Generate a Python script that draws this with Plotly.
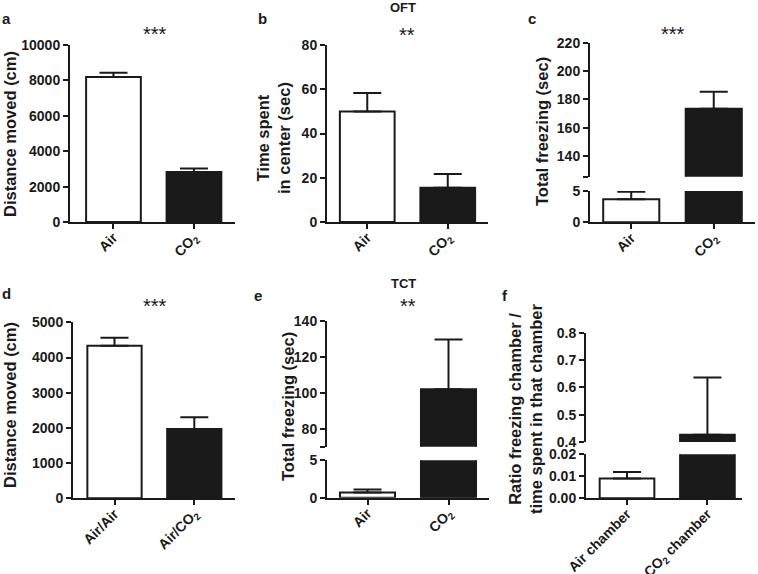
import plotly.graph_objects as go

# ---------------- data ----------------
cats_oft = ["Air", "CO<sub>2</sub>"]
dist_oft = [8200, 2820]
dist_oft_err = [240, 210]
center_time = [50, 15.5]
center_time_err = [8.3, 6.2]
freeze_oft = [3.7, 173.5]
freeze_oft_err = [1.2, 12.0]

cats_tct = ["Air/Air", "Air/CO<sub>2</sub>"]
dist_tct = [4335, 1970]
dist_tct_err = [227, 335]
cats_freeze_tct = ["Air", "CO<sub>2</sub>"]
freeze_tct = [0.7, 102]
freeze_tct_err = [0.4, 27.7]
cats_ratio = ["Air chamber", "CO<sub>2</sub> chamber"]
ratio = [0.009, 0.427]
ratio_err = [0.003, 0.209]

W, H = 758, 574
FONT = "Liberation Sans, Arial, sans-serif"
INK = "#1a1a1a"
BAR_COLORS = ["white", INK]


def fx(px):
    return px / W


def fy(py):
    return 1 - py / H


fig = go.Figure()
layout = {}


def add_bars(xa, ya, cats, vals, errs):
    fig.add_trace(go.Bar(
        x=cats, y=vals, xaxis=xa, yaxis=ya, width=0.68,
        marker=dict(color=BAR_COLORS, line=dict(color=INK, width=2)),
        error_y=dict(type="data", symmetric=False, array=errs,
                     arrayminus=[0] * len(errs), color=INK,
                     thickness=2, width=14),
        showlegend=False, hoverinfo="skip"))


def xaxis_spec(xpx, xr, anchor):
    return dict(domain=[fx(xpx[0]), fx(xpx[1])], range=xr, type="category",
                anchor=anchor, showline=True, linewidth=2, linecolor=INK,
                ticks="outside", ticklen=5, tickwidth=2, tickcolor=INK,
                tickangle=-45, ticklabelstandoff=-5,
                showgrid=False, zeroline=False, automargin=False,
                tickfont=dict(family=FONT, size=14, color=INK, weight="bold"))


def yaxis_spec(ypx, yr, tv, tt, anchor):
    return dict(domain=[fy(ypx[1]), fy(ypx[0])], range=yr, anchor=anchor,
                tickvals=tv, ticktext=tt, showline=True, linewidth=2,
                linecolor=INK, ticks="outside", ticklen=5, tickwidth=2,
                tickcolor=INK, showgrid=False, zeroline=False, automargin=False,
                tickfont=dict(family=FONT, size=14, color=INK, weight="bold"))


# panel a
add_bars("x", "y", cats_oft, dist_oft, dist_oft_err)
layout["xaxis"] = xaxis_spec([70, 235], [-0.54, 1.51], "y")
tv = [0, 2000, 4000, 6000, 8000, 10000]
layout["yaxis"] = yaxis_spec([45, 222], [0, 10005], tv, [str(v) for v in tv], "x")

# panel b
add_bars("x2", "y2", cats_oft, center_time, center_time_err)
layout["xaxis2"] = xaxis_spec([327, 488], [-0.5, 1.5], "y2")
tv = [0, 20, 40, 60, 80]
layout["yaxis2"] = yaxis_spec([45, 222], [0, 80.05], tv, [str(v) for v in tv], "x2")

# panel c (broken axis)
add_bars("x3", "y3", cats_oft, freeze_oft, freeze_oft_err)
add_bars("x3", "y4", cats_oft, freeze_oft, freeze_oft_err)
layout["xaxis3"] = xaxis_spec([590, 755], [-0.5, 1.5], "y3")
layout["yaxis3"] = yaxis_spec([191, 222.3], [0, 5.01], [0, 5], ["0", "5"], "x3")
tv = [125.4, 140, 160, 180, 200, 220]
layout["yaxis4"] = yaxis_spec([42.7, 176.7], [125.4, 220.1], tv,
                              [""] + [str(v) for v in tv[1:]], "x3")

# panel d
add_bars("x4", "y5", cats_tct, dist_tct, dist_tct_err)
layout["xaxis4"] = xaxis_spec([73, 235], [-0.52, 1.51], "y5")
tv = [0, 1000, 2000, 3000, 4000, 5000]
layout["yaxis5"] = yaxis_spec([322.3, 498.3], [0, 5003], tv, [str(v) for v in tv], "x4")

# panel e (broken axis)
add_bars("x5", "y6", cats_freeze_tct, freeze_tct, freeze_tct_err)
add_bars("x5", "y7", cats_freeze_tct, freeze_tct, freeze_tct_err)
layout["xaxis5"] = xaxis_spec([327, 489], [-0.5, 1.5], "y6")
layout["yaxis6"] = yaxis_spec([460.3, 497.7], [0, 5.01], [0, 5], ["0", "5"], "x5")
tv = [70, 80, 100, 120, 140]
layout["yaxis7"] = yaxis_spec([320.7, 446.7], [70, 140.1], tv,
                              [""] + [str(v) for v in tv[1:]], "x5")

# panel f (broken axis)
add_bars("x6", "y8", cats_ratio, ratio, ratio_err)
add_bars("x6", "y9", cats_ratio, ratio, ratio_err)
layout["xaxis6"] = xaxis_spec([586, 742], [-0.51, 1.43], "y8")
layout["yaxis8"] = yaxis_spec([454.3, 498.3], [0, 0.02002], [0, 0.01, 0.02],
                              ["0.00", "0.01", "0.02"], "x6")
tv = [0.4, 0.5, 0.6, 0.7, 0.8]
layout["yaxis9"] = yaxis_spec([332.7, 442], [0.4, 0.8005], tv, [str(v) for v in tv], "x6")

annotations = []


def note(text, px, py, size, angle=0, bold=True):
    annotations.append(dict(
        text=text, x=fx(px), y=fy(py), xref="paper", yref="paper",
        showarrow=False, textangle=angle, xanchor="center", yanchor="middle",
        font=dict(family=FONT, size=size, color=INK,
                  weight="bold" if bold else "normal")))


# panel letters
for t, px, py in [("a", 6, 19), ("b", 262, 19), ("c", 532, 19),
                  ("d", 6, 293), ("e", 258, 295), ("f", 505, 295)]:
    note(t, px, py, 15)

# section headers
note("OFT", 403, 8, 13)
note("TCT", 403, 284, 13)

# significance stars
for t, px, py in [("***", 155, 34), ("**", 407, 35), ("***", 673, 34),
                  ("***", 155, 306), ("**", 408, 306)]:
    note(t, px, py, 20, bold=False)

# y-axis titles
note("Distance moved (cm)", 10, 134, 16.5, -90)
note("Time spent<br>in center (sec)", 273, 138, 16.5, -90)
note("Total freezing (sec)", 542, 132, 16.5, -90)
note("Distance moved (cm)", 10, 405, 16.5, -90)
note("Total freezing (sec)", 288, 407, 16.5, -90)
note("Ratio freezing chamber /<br>time spent in that chamber", 525, 409, 16.5, -90)

fig.update_layout(
    template="none",
    width=W, height=H, margin=dict(l=0, r=0, t=0, b=0, autoexpand=False),
    paper_bgcolor="white", plot_bgcolor="white", bargap=0,
    annotations=annotations, **layout)

fig.write_html("out.html",
               config={"displayModeBar": False, "staticPlot": True},
               post_script="document.body.style.margin='0';"
                           "document.body.style.overflow='hidden';")
